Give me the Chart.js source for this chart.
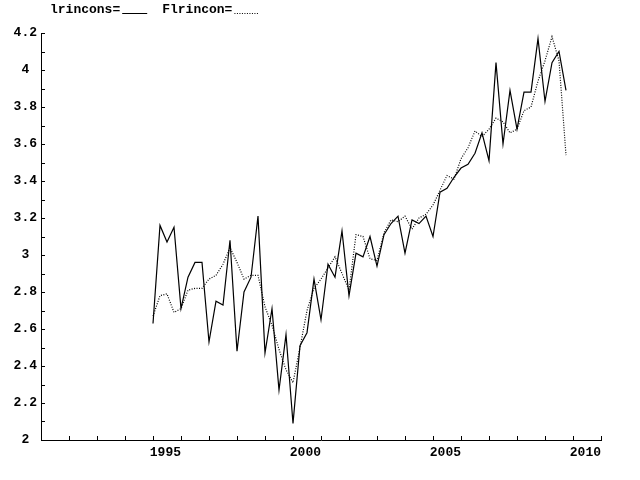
<!DOCTYPE html>
<html>
<head>
<meta charset="utf-8">
<title>lrincons</title>
<script src="https://cdn.jsdelivr.net/npm/chart.js@4.4.1/dist/chart.umd.min.js"></script>
<style>
  html, body { margin: 0; padding: 0; background: #fff; }
  canvas { display: block; }
</style>
</head>
<body>
<canvas id="chart" width="640" height="480"></canvas>
<script>
// quarterly, 1994Q1 .. 2008Q4
const firstYear = 1994;
const lrincons = [
    2.63, 3.16, 3.07, 3.15,
    2.71, 2.88, 2.96, 2.96,
    2.53, 2.75, 2.73, 3.08,
    2.48, 2.80, 2.88, 3.21,
    2.47, 2.71, 2.27, 2.57,
    2.09, 2.51, 2.58, 2.87,
    2.65, 2.95, 2.88, 3.13,
    2.78, 3.01, 2.99, 3.10,
    2.94, 3.11, 3.17, 3.21,
    3.01, 3.19, 3.17, 3.21,
    3.10, 3.34, 3.36, 3.42,
    3.47, 3.49, 3.55, 3.66,
    3.51, 4.04, 3.60, 3.89,
    3.68, 3.88, 3.88, 4.17,
    3.83, 4.04, 4.10, 3.89
];
const Flrincon = [
    2.67, 2.78, 2.79, 2.69,
    2.71, 2.81, 2.82, 2.82,
    2.87, 2.89, 2.95, 3.04,
    2.96, 2.87, 2.89, 2.89,
    2.72, 2.62, 2.49, 2.38,
    2.31, 2.50, 2.70, 2.82,
    2.87, 2.93, 2.99, 2.90,
    2.81, 3.11, 3.10, 2.98,
    2.97, 3.12, 3.19, 3.18,
    3.21, 3.14, 3.20, 3.22,
    3.27, 3.35, 3.43, 3.41,
    3.52, 3.58, 3.67, 3.64,
    3.68, 3.74, 3.72, 3.66,
    3.68, 3.78, 3.80, 3.94,
    4.05, 4.18, 4.05, 3.54
];
const xMin = 1990, xMax = 2010;
const yMin = 2, yMax = 4.2;
const xLabelYears = [1995, 2000, 2005, 2010];

const FONT = { family: "'Liberation Mono', 'DejaVu Sans Mono', monospace", size: 13, weight: "bold" };

function toPoints(values) {
    return values.map((v, i) => ({ x: firstYear + i / 4, y: v }));
}

// small inward tick marks on both axes + the "name=line" key on top
const axisDecor = {
    id: "axisDecor",
    afterDraw(chart) {
        const ctx = chart.ctx;
        const xs = chart.scales.x, ys = chart.scales.y;
        const area = chart.chartArea;
        ctx.save();
        ctx.strokeStyle = "#000";
        ctx.lineWidth = 1;
        ctx.beginPath();
        ys.ticks.forEach(t => {
            const py = Math.round(ys.getPixelForValue(t.value)) + 0.5;
            ctx.moveTo(area.left, py);
            ctx.lineTo(area.left + 4, py);
        });
        xs.ticks.forEach(t => {
            const px = Math.round(xs.getPixelForValue(t.value)) + 0.5;
            ctx.moveTo(px, area.bottom);
            ctx.lineTo(px, area.bottom - 4);
        });
        ctx.stroke();

        ctx.font = `${FONT.weight} ${FONT.size}px ${FONT.family}`;
        ctx.fillStyle = "#000";
        ctx.textBaseline = "middle";
        let x = 50;
        const y = 10;
        chart.data.datasets.forEach(ds => {
            const txt = ds.label + "=";
            ctx.fillText(txt, x, y);
            x += ctx.measureText(txt).width + 2;
            ctx.beginPath();
            ctx.setLineDash(ds.borderDash || []);
            ctx.moveTo(x, y + 3.5);
            ctx.lineTo(x + 25, y + 3.5);
            ctx.stroke();
            ctx.setLineDash([]);
            x += 40;
        });
        ctx.restore();
    }
};

new Chart(document.getElementById("chart"), {
    type: "line",
    data: {
        datasets: [
            {
                label: "lrincons",
                data: toPoints(lrincons),
                borderColor: "#000",
                borderWidth: 1.2,
                pointRadius: 0,
                tension: 0
            },
            {
                label: "Flrincon",
                data: toPoints(Flrincon),
                borderColor: "#000",
                borderWidth: 1.2,
                borderDash: [1, 1.5],
                pointRadius: 0,
                tension: 0
            }
        ]
    },
    options: {
        responsive: false,
        animation: false,
        devicePixelRatio: 1,
        layout: { padding: { top: 33, right: 39, left: 0, bottom: 0 } },
        plugins: {
            legend: { display: false },
            tooltip: { enabled: false }
        },
        scales: {
            x: {
                type: "linear",
                min: xMin,
                max: xMax,
                grid: { drawOnChartArea: false, drawTicks: false },
                border: { display: true, color: "#000", width: 1 },
                afterFit: s => { s.height = 40; },
                ticks: {
                    stepSize: 1,
                    autoSkip: false,
                    maxRotation: 0,
                    align: "end",
                    padding: 5,
                    color: "#000",
                    font: FONT,
                    callback: v => xLabelYears.includes(Math.round(v)) ? String(Math.round(v)) : ""
                }
            },
            y: {
                min: yMin,
                max: yMax,
                grid: { drawOnChartArea: false, drawTicks: false },
                border: { display: true, color: "#000", width: 1 },
                afterFit: s => { s.width = 41; },
                ticks: {
                    stepSize: 0.1,
                    autoSkip: false,
                    crossAlign: "center",
                    padding: 4,
                    color: "#000",
                    font: FONT,
                    callback: v => {
                        const k = Math.round(v * 10);
                        return k % 2 === 0 ? String(k / 10) : "";
                    }
                }
            }
        }
    },
    plugins: [axisDecor]
});
</script>
</body>
</html>
